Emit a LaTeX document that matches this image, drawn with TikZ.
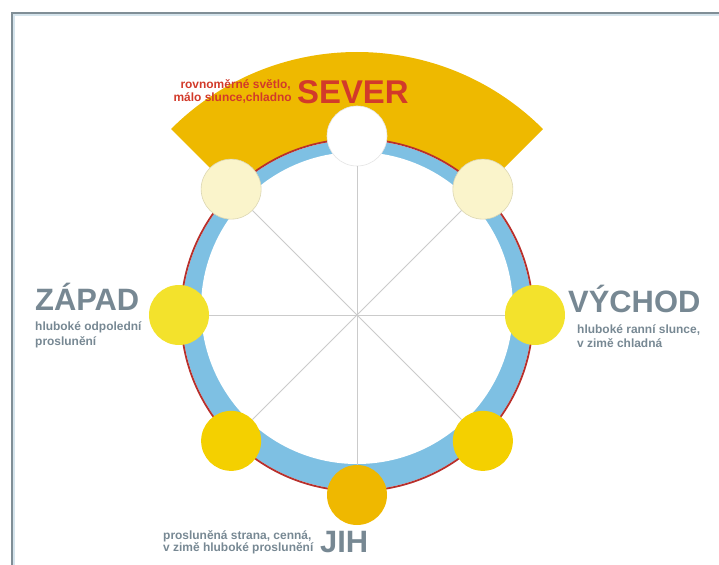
\documentclass[tikz,border=0pt]{standalone}
\usepackage{fontspec}
\setmainfont{Liberation Sans}
\usetikzlibrary{calc}
\definecolor{framegray}{HTML}{808E96}
\definecolor{framelight}{HTML}{D5E4EC}
\definecolor{sectoryellow}{HTML}{EEB900}
\definecolor{ringblue}{HTML}{7EC0E3}
\definecolor{ringred}{HTML}{B8302C}
\definecolor{spokegray}{HTML}{CBCBCB}
\definecolor{sunwhite}{HTML}{FFFFFF}
\definecolor{sunpale}{HTML}{FAF4CB}
\definecolor{sunlemon}{HTML}{F3E22C}
\definecolor{sungold}{HTML}{F4D000}
\definecolor{sunorange}{HTML}{EFB800}
\definecolor{textred}{HTML}{D23A2A}
\definecolor{textgray}{HTML}{778893}
\tikzset{
  sun/.style={circle, minimum size=60bp, inner sep=0pt},
  bigword/.style={inner sep=0pt, anchor=base west, font=\bfseries\fontsize{31}{31}\selectfont, text=textgray},
  smallword/.style={inner sep=0pt, font=\bfseries\fontsize{12}{13}\selectfont, text=textgray},
  spoke/.style={draw=spokegray, line width=0.9bp}
}
\begin{document}
\begin{tikzpicture}[x=1bp, y=-1bp]
\useasboundingbox (0,0) rectangle (719,565);
% frame
\draw[framelight, line width=1.5bp] (14,565) -- (14,15) -- (719,15);
\draw[framegray, line width=2bp] (12,565) -- (12,13) -- (719,13);
\coordinate (c) at (357,315);
% yellow sector
\fill[sectoryellow] ($(c)+(225:263)$) arc[start angle=225, end angle=315, radius=263]
  -- ($(c)+(315:176)$) arc[start angle=315, end angle=225, radius=176] -- cycle;
% ring
\fill[ringblue] (c) circle[radius=175];
\fill[white] (357,308) circle[radius=156];
\draw[ringred, line width=1.8bp] (c) circle[radius=176];
% suns
\node[sun, fill=sunwhite, draw=black!10, line width=0.6bp] (sN) at ($(c)+(270:179)$) {};
\node[sun, fill=sunpale, draw=black!12!sunpale, line width=0.6bp] (sNW) at ($(c)+(225:178)$) {};
\node[sun, fill=sunpale, draw=black!12!sunpale, line width=0.6bp] (sNE) at ($(c)+(315:178)$) {};
\node[sun, fill=sunlemon] (sW) at ($(c)+(180:178)$) {};
\node[sun, fill=sunlemon] (sE) at ($(c)+(0:178)$) {};
\node[sun, fill=sungold] (sSW) at ($(c)+(135:178)$) {};
\node[sun, fill=sungold] (sSE) at ($(c)+(45:178)$) {};
\node[sun, fill=sunorange] (sS) at ($(c)+(90:180)$) {};
% spokes
\foreach \s in {sN,sNE,sE,sSE,sS,sSW,sW,sNW} \draw[spoke] (c) -- (\s);
% texts
\node[bigword, text=textred, font=\bfseries\fontsize{33}{33}\selectfont] (sever) at (297,104) {SEVER};
\node[smallword, text=textred, anchor=base east] (sever1) at (291,89) {rovnoměrné světlo,};
\node[smallword, text=textred, anchor=base east] (sever2) at (292,102) {málo slunce,chladno};
\node[bigword] (zapad) at (35,310) {ZÁPAD};
\node[smallword, anchor=base west] (zapad1) at (35,330) {hluboké odpolední};
\node[smallword, anchor=base west] (zapad2) at (35,345) {proslunění};
\node[bigword] (vychod) at (568,312) {VÝCHOD};
\node[smallword, anchor=base west] (vychod1) at (577,333) {hluboké ranní slunce,};
\node[smallword, anchor=base west] (vychod2) at (577,347) {v zimě chladná};
\node[bigword] (jih) at (320,552) {JIH};
\node[smallword, anchor=base west] (jih1) at (163,539) {prosluněná strana, cenná,};
\node[smallword, anchor=base west] (jih2) at (163,551) {v zimě hluboké proslunění};
\end{tikzpicture}
\end{document}
